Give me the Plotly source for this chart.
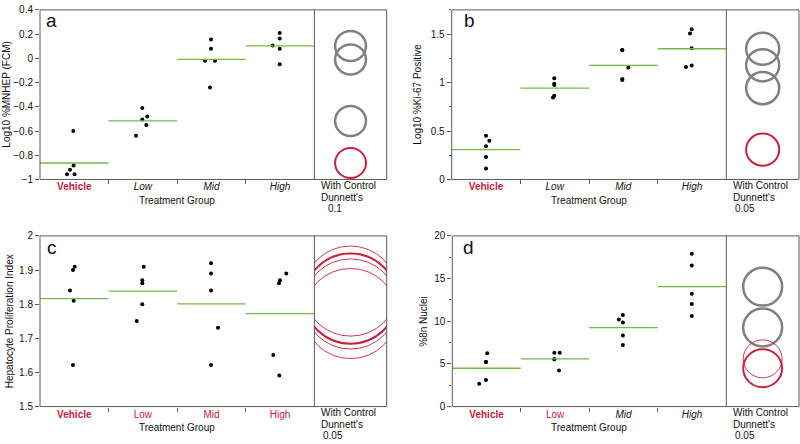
import plotly.graph_objects as go

# ---------------- data ----------------
GROUPS = ["Vehicle", "Low", "Mid", "High"]

# panel a : Log10 %MNHEP (FCM)
A_VEHICLE = [-0.60, -0.885, -0.92, -0.957, -0.957]
A_LOW = [-0.41, -0.48, -0.505, -0.55, -0.64]
A_MID = [0.155, 0.08, -0.02, -0.02, -0.24]
A_HIGH = [0.21, 0.163, 0.107, 0.08, -0.048]

# panel b : Log10 %Ki-67 Positive
B_VEHICLE = [0.452, 0.40, 0.344, 0.231, 0.113]
B_LOW = [1.044, 0.987, 0.974, 0.863, 0.846]
B_MID = [1.335, 1.335, 1.155, 1.037, 1.027]
B_HIGH = [1.549, 1.506, 1.355, 1.175, 1.161]

# panel c : Hepatocyte Proliferation Index
C_VEHICLE = [1.91, 1.90, 1.84, 1.81, 1.622]
C_LOW = [1.91, 1.87, 1.861, 1.80, 1.751]
C_MID = [1.92, 1.89, 1.84, 1.731, 1.622]
C_HIGH = [1.89, 1.87, 1.861, 1.651, 1.591]

# panel d : %8n Nuclei
D_VEHICLE = [6.24, 5.21, 5.21, 3.12, 2.67]
D_LOW = [6.32, 6.32, 5.55, 5.55, 4.22]
D_MID = [10.72, 10.19, 9.85, 8.32, 7.23]
D_HIGH = [17.9, 16.53, 13.22, 12.02, 10.6]

# Dunnett's comparison-circle radii (y units) and significance vs control
A_CIRCLE_R = 0.124
B_CIRCLE_R = 0.166
C_CIRCLE_R = 0.132
D_CIRCLE_R = 2.22
A_SIG = [False, True, True, True]
B_SIG = [False, True, True, True]
C_SIG = [False, False, False, False]
D_SIG = [False, False, True, True]

A_ALPHA = "0.1"
B_ALPHA = "0.05"
C_ALPHA = "0.05"
D_ALPHA = "0.05"

# ---------------- style ----------------
W, H = 800, 444
RED = "#c8203c"
GREEN = "#78b84a"
GRAY = "#808080"
FRAME = "#5a5a5a"
FONT = "Arial, Liberation Sans, Helvetica, sans-serif"
CAT_W = 68.6  # px per category

# horizontal jitter of points (pixels) - purely visual placement
A_JIT = [[-1, -0.7, -4.3, -7.3, 0.3], [-0.6, 4.4, -0.6, 3.4, -6.9],
         [-0.5, -0.5, -6.5, 3.5, -1.5], [-0.4, -0.4, -7.4, -0.4, -0.4]]
B_JIT = [[0, 3.3, 0, 0, 0], [-0.4, -0.4, -0.4, -0.4, -1.7],
         [-1, -1, 5, -1, -1], [-0.3, -2, -0.3, -0.3, -6]]
C_JIT = [[0.4, -1.3, -4.3, -0.6, -1.3], [0.8, -0.6, -0.6, -0.6, -6.2],
         [-0.5, -0.5, -0.5, 6.5, -0.5], [6.2, -0.1, -1.1, -6.8, -0.8]]
D_JIT = [[0.7, -0.6, -0.6, -0.6, -7.3], [-0.7, 4.7, -0.7, -0.7, 4],
         [-0.7, -4.7, -0.7, -0.7, -0.7], [-0.3, -0.3, -0.3, -0.3, -0.3]]


def lbl(text, color=None, bold=False, italic=False):
    s = text
    if color:
        s = f"<span style='color:{color}'>{s}</span>"
    if bold:
        s = f"<b>{s}</b>"
    if italic:
        s = f"<i>{s}</i>"
    return s


panels = [
    dict(key="a", data=[A_VEHICLE, A_LOW, A_MID, A_HIGH], jit=A_JIT, r=A_CIRCLE_R, sig=A_SIG,
         alpha=A_ALPHA, yrange=[-1, 0.4], dtick=0.2, minor=None,
         ytitle="Log10 %MNHEP (FCM)",
         ticks=[lbl("Vehicle", RED, True), lbl("Low", italic=True), lbl("Mid", italic=True), lbl("High", italic=True)],
         left=40, div=314.4, right=386.7, top=4, bottom=178.3, ytx=7, letter_xy=(51, 15)),
    dict(key="b", data=[B_VEHICLE, B_LOW, B_MID, B_HIGH], jit=B_JIT, r=B_CIRCLE_R, sig=B_SIG,
         alpha=B_ALPHA, yrange=[0, 1.75], dtick=0.5, minor=0.25,
         ytitle="Log10 %Ki-67 Positive",
         ticks=[lbl("Vehicle", RED, True), lbl("Low", italic=True), lbl("Mid", italic=True), lbl("High", italic=True)],
         left=451.7, div=726.3, right=799, top=4, bottom=178.3, ytx=418, letter_xy=(469, 15)),
    dict(key="c", data=[C_VEHICLE, C_LOW, C_MID, C_HIGH], jit=C_JIT, r=C_CIRCLE_R, sig=C_SIG,
         alpha=C_ALPHA, yrange=[1.5, 2.0], dtick=0.1, minor=None,
         ytitle="Hepatocyte Proliferation Index",
         ticks=[lbl("Vehicle", RED, True), lbl("Low", RED), lbl("Mid", RED), lbl("High", RED)],
         left=40, div=314.4, right=386.7, top=236.3, bottom=411.7, ytx=9, letter_xy=(52, 248)),
    dict(key="d", data=[D_VEHICLE, D_LOW, D_MID, D_HIGH], jit=D_JIT, r=D_CIRCLE_R, sig=D_SIG,
         alpha=D_ALPHA, yrange=[0, 20], dtick=5, minor=2.5,
         ytitle="%8n Nuclei",
         ticks=[lbl("Vehicle", RED, True), lbl("Low", RED), lbl("Mid", italic=True), lbl("High", italic=True)],
         left=452.3, div=726.3, right=799, top=236.3, bottom=411.7, ytx=423.5, letter_xy=(468, 248)),
]

fig = go.Figure()
layout = dict(width=W, height=H, margin=dict(l=0, r=0, t=0, b=0),
              paper_bgcolor="white", plot_bgcolor="white", showlegend=False,
              font=dict(family=FONT, size=10, color="#111"))
shapes = []
annotations = []


def px_x(v):
    return v / W


def px_y(v):
    return 1 - v / H


for i, p in enumerate(panels):
    n = i * 2 + 1
    xc_name = "x" if n == 1 else f"x{n}"
    xr_name = f"x{n + 1}"
    y_name = "y" if i == 0 else f"y{i + 1}"
    xc_key = "xaxis" if n == 1 else f"xaxis{n}"
    xr_key = f"xaxis{n + 1}"
    y_key = "yaxis" if i == 0 else f"yaxis{i + 1}"

    ydom = [px_y(p["bottom"]), px_y(p["top"])]
    layout[xc_key] = dict(domain=[px_x(p["left"]), px_x(p["div"])], anchor=y_name,
                          range=[-0.5, 3.5], showgrid=False, zeroline=False, showline=False,
                          tickmode="array", tickvals=[0, 1, 2, 3], ticktext=p["ticks"],
                          ticks="", ticklabelstandoff=0,
                          tickfont=dict(family=FONT, size=10, color="#111"),
                          minor=dict(tickmode="array", tickvals=[0.5, 1.5, 2.5], ticks="outside",
                                     ticklen=4, tickcolor=FRAME, tickwidth=1),
                          fixedrange=True)
    layout[xr_key] = dict(domain=[px_x(p["div"]), px_x(p["right"])], anchor=y_name,
                          range=[-1, 1], visible=False, fixedrange=True)
    ymin, ymax = p["yrange"]
    yax = dict(domain=ydom, anchor=xc_name, range=[ymin, ymax], showgrid=False, zeroline=False,
               showline=False, tickmode="linear", tick0=ymin, dtick=p["dtick"],
               ticks="outside", ticklen=4, tickcolor=FRAME, tickwidth=1,
               tickfont=dict(family=FONT, size=10, color="#111"), fixedrange=True)
    if p["minor"]:
        yax["minor"] = dict(dtick=p["minor"], tick0=ymin, ticks="outside", ticklen=2,
                            tickcolor=FRAME, tickwidth=1)
    layout[y_key] = yax

    # points and mean lines
    for g, vals in enumerate(p["data"]):
        xs = [g + j / CAT_W for j in p["jit"][g]]
        fig.add_trace(go.Scatter(x=xs, y=vals, mode="markers", xaxis=xc_name, yaxis=y_name,
                                 marker=dict(size=4, color="black"), hoverinfo="skip",
                                 cliponaxis=False))
        m = sum(vals) / len(vals)
        fig.add_trace(go.Scatter(x=[g - 0.5, g + 0.5], y=[m, m], mode="lines",
                                 xaxis=xc_name, yaxis=y_name,
                                 line=dict(color=GREEN, width=1.3), hoverinfo="skip"))

    # comparison circles subplot
    means = [sum(v) / len(v) for v in p["data"]]
    fig.add_trace(go.Scatter(x=[0], y=[means[0]], mode="markers", xaxis=xr_name, yaxis=y_name,
                             marker=dict(opacity=0, size=1), hoverinfo="skip"))
    h_px = p["bottom"] - p["top"]
    r_px = p["r"] * h_px / (ymax - ymin)
    order = [g for g in range(1, 4) if p["sig"][g]] + [g for g in range(1, 4) if not p["sig"][g]] + [0]
    for g in order:
        if g == 0:
            col, wd = RED, 2
        elif p["sig"][g]:
            col, wd = GRAY, 2.5
        else:
            col, wd = RED, 0.9
        shapes.append(dict(type="circle", xref=xr_name, yref=y_name, xsizemode="pixel",
                           xanchor=0, x0=-r_px, x1=r_px,
                           y0=means[g] - p["r"], y1=means[g] + p["r"],
                           line=dict(color=col, width=wd), layer="above"))

    # frame and divider
    shapes.append(dict(type="rect", xref="paper", yref="paper",
                       x0=px_x(p["left"]), x1=px_x(p["right"]), y0=ydom[0], y1=ydom[1],
                       line=dict(color=FRAME, width=1), layer="above"))
    shapes.append(dict(type="line", xref="paper", yref="paper",
                       x0=px_x(p["div"]), x1=px_x(p["div"]), y0=ydom[0], y1=ydom[1],
                       line=dict(color=FRAME, width=1), layer="above"))

    # texts
    cy = (p["top"] + p["bottom"]) / 2
    annotations.append(dict(text=p["ytitle"], x=px_x(p["ytx"]), y=px_y(cy), xref="paper", yref="paper",
                            textangle=-90, showarrow=False, xanchor="center", yanchor="middle",
                            font=dict(family=FONT, size=10, color="#111")))
    annotations.append(dict(text="Treatment Group", x=px_x((p["left"] + p["div"]) / 2),
                            y=px_y(p["bottom"] + 22), xref="paper", yref="paper",
                            showarrow=False, xanchor="center", yanchor="middle",
                            font=dict(family=FONT, size=10, color="#111")))
    tx = p["div"] + 5
    for k, (t, dx, dy) in enumerate([("With Control", 0, 6.5), ("Dunnett's", 0, 18.5),
                                      (p["alpha"], 7 if p["alpha"] == "0.1" else 1.5, 29.5)]):
        annotations.append(dict(text=t, x=px_x(tx + dx), y=px_y(p["bottom"] + dy),
                                xref="paper", yref="paper", showarrow=False,
                                xanchor="left", yanchor="middle",
                                font=dict(family=FONT, size=10, color="#111")))
    lx, ly = p["letter_xy"]
    annotations.append(dict(text=p["key"], x=px_x(lx), y=px_y(ly), xref="paper", yref="paper",
                            showarrow=False, xanchor="center", yanchor="middle",
                            font=dict(family=FONT, size=19, color="#111")))

layout["shapes"] = shapes
layout["annotations"] = annotations
fig.update_layout(**layout)
fig.write_html(
    "out.html",
    config={"responsive": False, "displayModeBar": False},
    post_script="document.body.style.margin='0';document.body.style.overflow='hidden';"
                "document.documentElement.style.overflow='hidden';",
)
